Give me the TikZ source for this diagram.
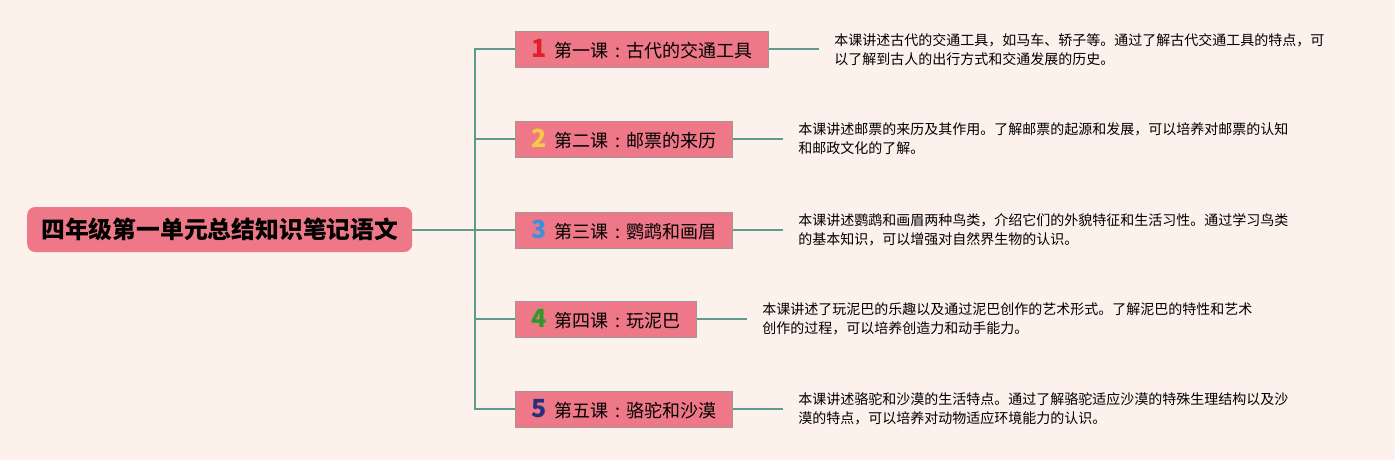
\documentclass[tikz,border=0pt]{standalone}
\usepackage{fontspec}
\setmainfont{Noto Sans CJK SC}
\usepackage{tikz}
\usetikzlibrary{positioning}

\definecolor{bgpeach}{HTML}{FDF1EC}
\definecolor{lessonpink}{HTML}{EE7887}
\definecolor{lessonedge}{HTML}{A09898}
\definecolor{linkteal}{HTML}{5F9B8C}
\definecolor{numred}{HTML}{E0202C}
\definecolor{numyellow}{HTML}{F7C948}
\definecolor{numblue}{HTML}{3A90DA}
\definecolor{numgreen}{HTML}{2E9A2E}
\definecolor{numnavy}{HTML}{28307A}

\tikzset{
  root/.style={fill=lessonpink, rounded corners=8pt, minimum height=45pt,
    inner xsep=14pt, inner ysep=0pt, font=\fontsize{23.8}{26}\selectfont\bfseries},
  lesson/.style={draw=lessonedge, fill=lessonpink, line width=1pt,
    minimum height=36pt, inner xsep=16pt, inner ysep=0pt, anchor=west,
    font=\fontsize{18}{20}\selectfont},
  note/.style={inner xsep=15pt, inner ysep=0pt, align=left,
    font=\fontsize{14}{19}\selectfont},
  link/.style={draw=linkteal, line width=2pt},
}
\newcommand{\lnum}[2]{\textcolor{#1}{\fontsize{25}{25}\selectfont\bfseries #2}\hspace{8pt}}
\newcommand{\lcolon}{\makebox[1em]{:}}

\begin{document}
\begin{tikzpicture}[x=1pt, y=-1pt]
  \fill[bgpeach] (0,0) rectangle (1395,460);
  \useasboundingbox (0,0) rectangle (1395,460);

  \node[root, anchor=west] (main) at (27,229.5) {四年级第一单元总结知识笔记语文};
  \coordinate (fork) at (475,229.5);

  % lessons
  \node[lesson] (l1) at (515,49.5) {\lnum{numred}{1}第一课\lcolon 古代的交通工具};
  \node[lesson] (l2) at (515,139) {\lnum{numyellow}{2}第二课\lcolon 邮票的来历};
  \node[lesson] (l3) at (515,230) {\lnum{numblue}{3}第三课\lcolon 鹦鹉和画眉};
  \node[lesson] (l4) at (515,319) {\lnum{numgreen}{4}第四课\lcolon 玩泥巴};
  \node[lesson] (l5) at (515,409) {\lnum{numnavy}{5}第五课\lcolon 骆驼和沙漠};

  % notes
  \node[note, right=50pt of l1] (n1) {本课讲述古代的交通工具，如马车、轿子等。通过了解古代交通工具的特点，可\\以了解到古人的出行方式和交通发展的历史。};
  \node[note, right=50pt of l2] (n2) {本课讲述邮票的来历及其作用。了解邮票的起源和发展，可以培养对邮票的认知\\和邮政文化的了解。};
  \node[note, right=50pt of l3] (n3) {本课讲述鹦鹉和画眉两种鸟类，介绍它们的外貌特征和生活习性。通过学习鸟类\\的基本知识，可以增强对自然界生物的认识。};
  \node[note, right=50pt of l4] (n4) {本课讲述了玩泥巴的乐趣以及通过泥巴创作的艺术形式。了解泥巴的特性和艺术\\创作的过程，可以培养创造力和动手能力。};
  \node[note, right=50pt of l5] (n5) {本课讲述骆驼和沙漠的生活特点。通过了解骆驼适应沙漠的特殊生理结构以及沙\\漠的特点，可以培养对动物适应环境能力的认识。};

  \draw[link] (main.east) -- (fork);
  \foreach \i in {1,...,5} {
    \draw[link] (fork) |- (l\i.west);
    \draw[link] (l\i.east) -- (n\i.west);
  }
\end{tikzpicture}
\end{document}
